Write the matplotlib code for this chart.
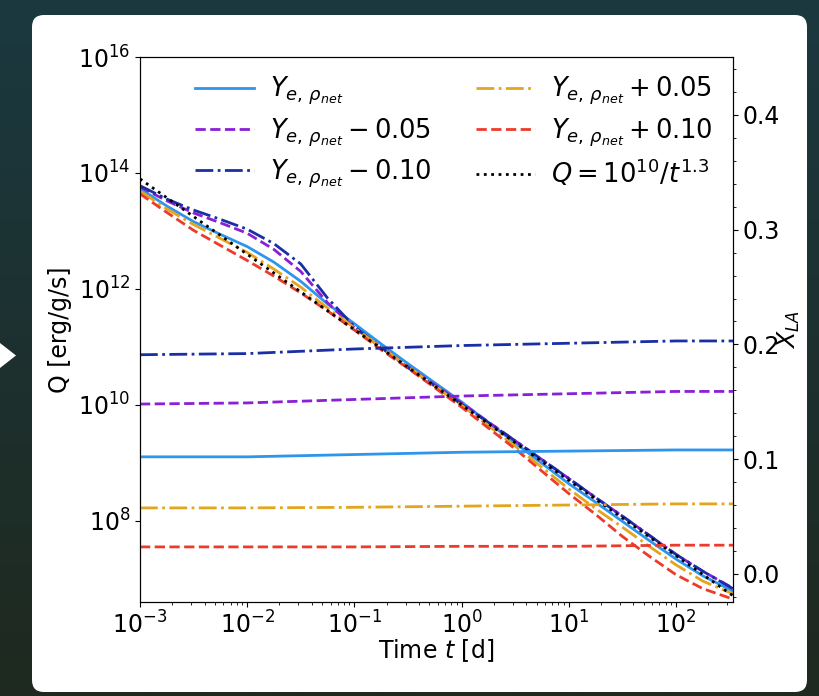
import matplotlib
matplotlib.use('Agg')
import matplotlib.pyplot as plt
import numpy as np
from matplotlib.patches import FancyBboxPatch, Polygon
from matplotlib.ticker import FixedLocator, NullLocator, LogLocator, AutoMinorLocator


# Datos (log10 del tiempo en dias y log10 de Q)
log_t = [-3, -2.75, -2.5, -2.25, -2, -1.75, -1.5, -1.25, -1, -0.75,
         -0.5, 0, 0.5, 1, 1.25, 1.5, 1.75, 2, 2.25, 2.53]

logQ_nom = [13.73, 13.43, 13.16, 12.94, 12.73, 12.46, 12.13, 11.74, 11.40, 11.05,
            10.71, 10.05, 9.34, 8.64, 8.32, 7.99, 7.66, 7.34, 7.05, 6.79]
logQ_m05 = [13.76, 13.52, 13.31, 13.14, 12.96, 12.68, 12.30, 11.76, 11.33, 10.99,
            10.66, 10.03, 9.38, 8.73, 8.40, 8.08, 7.75, 7.42, 7.13, 6.84]
logQ_m10 = [13.78, 13.55, 13.36, 13.20, 13.03, 12.78, 12.43, 11.84, 11.35, 10.99,
            10.64, 10.01, 9.38, 8.73, 8.40, 8.08, 7.75, 7.42, 7.13, 6.83]
logQ_p05 = [13.69, 13.38, 13.11, 12.87, 12.63, 12.34, 12.03, 11.67, 11.33, 10.99,
            10.66, 9.99, 9.29, 8.55, 8.21, 7.89, 7.56, 7.24, 6.96, 6.74]
logQ_p10 = [13.64, 13.32, 13.01, 12.75, 12.49, 12.22, 11.93, 11.62, 11.29, 10.95,
            10.63, 9.96, 9.24, 8.47, 8.11, 7.73, 7.39, 7.07, 6.83, 6.65]

# Ajuste Q = 1e10 / t^1.3
t_fit = [1e-3, 340]
Q_fit = [7.9e13, 5.1e6]

# Fraccion de lantanidos X_LA
t_xla = [1e-3, 1e-2, 1e-1, 1, 10, 100, 340]
xla_nom = [0.102, 0.102, 0.104, 0.106, 0.107, 0.108, 0.108]
xla_m05 = [0.148, 0.149, 0.152, 0.155, 0.157, 0.159, 0.159]
xla_m10 = [0.191, 0.192, 0.196, 0.199, 0.201, 0.203, 0.203]
xla_p05 = [0.0575, 0.0575, 0.058, 0.059, 0.060, 0.061, 0.061]
xla_p10 = [0.0235, 0.0235, 0.0235, 0.024, 0.024, 0.025, 0.025]

c_nom = '#2e95ec'
c_m05 = '#8a1fd6'
c_m10 = '#1a2ea6'
c_p05 = '#e3a51e'
c_p10 = '#ec3b2a'

lab_nom = r'$Y_{e,\,\rho_{net}}$'
lab_m05 = r'$Y_{e,\,\rho_{net}} - 0.05$'
lab_m10 = r'$Y_{e,\,\rho_{net}} - 0.10$'
lab_p05 = r'$Y_{e,\,\rho_{net}} + 0.05$'
lab_p10 = r'$Y_{e,\,\rho_{net}} + 0.10$'
lab_fit = r'$Q = 10^{10}/t^{1.3}$'

fs = 17

fig = plt.figure(figsize=(8.2, 6.96), dpi=100)

# Fondo oscuro con degradado y tarjeta blanca
bg = fig.add_axes([0, 0, 1, 1], zorder=-1)
grad = np.linspace(0, 1, 256).reshape(-1, 1)
top = np.array([27, 57, 64]) / 255
bot = np.array([31, 41, 31]) / 255
img = top[None, None, :] * (1 - grad[:, :, None]) + bot[None, None, :] * grad[:, :, None]
bg.imshow(img, extent=[0, 820, 696, 0], aspect='auto')
bg.add_patch(FancyBboxPatch((32, 15), 775, 677, boxstyle='round,pad=0,rounding_size=12',
                            facecolor='white', edgecolor='none'))
bg.add_patch(Polygon([[0, 343], [0, 368], [16, 355.5]], closed=True, facecolor='white', edgecolor='none'))
bg.set_xlim(0, 820)
bg.set_ylim(696, 0)
bg.axis('off')

# Grafica principal
ax = fig.add_axes([0.1707, 0.1351, 0.7232, 0.7830])
tt = 10.0 ** np.array(log_t)
ax.plot(tt, 10.0 ** np.array(logQ_nom), '-', color=c_nom, lw=2, label=lab_nom)
ax.plot(tt, 10.0 ** np.array(logQ_m05), '--', color=c_m05, lw=2, label=lab_m05)
ax.plot(tt, 10.0 ** np.array(logQ_m10), '-.', color=c_m10, lw=2, label=lab_m10)
ax.plot(tt, 10.0 ** np.array(logQ_p05), '-.', color=c_p05, lw=2, label=lab_p05)
ax.plot(tt, 10.0 ** np.array(logQ_p10), '--', color=c_p10, lw=2, label=lab_p10)
ax.plot(t_fit, Q_fit, ':', color='black', lw=2, label=lab_fit)

ax.set_xscale('log')
ax.set_yscale('log')
ax.set_xlim(1e-3, 340)
ax.set_ylim(10 ** 6.6, 1e16)
ax.yaxis.set_major_locator(FixedLocator([1e8, 1e10, 1e12, 1e14, 1e16]))
ax.yaxis.set_minor_locator(NullLocator())
ax.xaxis.set_major_locator(LogLocator(base=10, numticks=20))
ax.xaxis.set_minor_locator(LogLocator(base=10, subs=np.arange(2, 10), numticks=20))
ax.tick_params(labelsize=fs)
ax.set_xlabel(r'Time $t$ [d]', fontsize=fs, labelpad=-1)
ax.set_ylabel('Q [erg/g/s]', fontsize=fs)

ax.legend(ncol=2, loc='upper left', bbox_to_anchor=(0.093, 0.967), frameon=False, fontsize=18.5,
          borderpad=0, borderaxespad=0, handlelength=2.3, handletextpad=0.6,
          columnspacing=1.75, labelspacing=0.35)

# Eje derecho con X_LA
ax2 = ax.twinx()
ax2.plot(t_xla, xla_nom, '-', color=c_nom, lw=2)
ax2.plot(t_xla, xla_m05, '--', color=c_m05, lw=2)
ax2.plot(t_xla, xla_m10, '-.', color=c_m10, lw=2)
ax2.plot(t_xla, xla_p05, '-.', color=c_p05, lw=2)
ax2.plot(t_xla, xla_p10, '--', color=c_p10, lw=2)
ax2.set_ylim(-0.0245, 0.4505)
ax2.set_yticks([0.0, 0.1, 0.2, 0.3, 0.4])
ax2.yaxis.set_minor_locator(AutoMinorLocator(5))
ax2.tick_params(labelsize=fs)
ax2.set_ylabel(r'$X_{LA}$', fontsize=fs, labelpad=-3)

fig.savefig('out.png', dpi=100, facecolor=fig.get_facecolor())
